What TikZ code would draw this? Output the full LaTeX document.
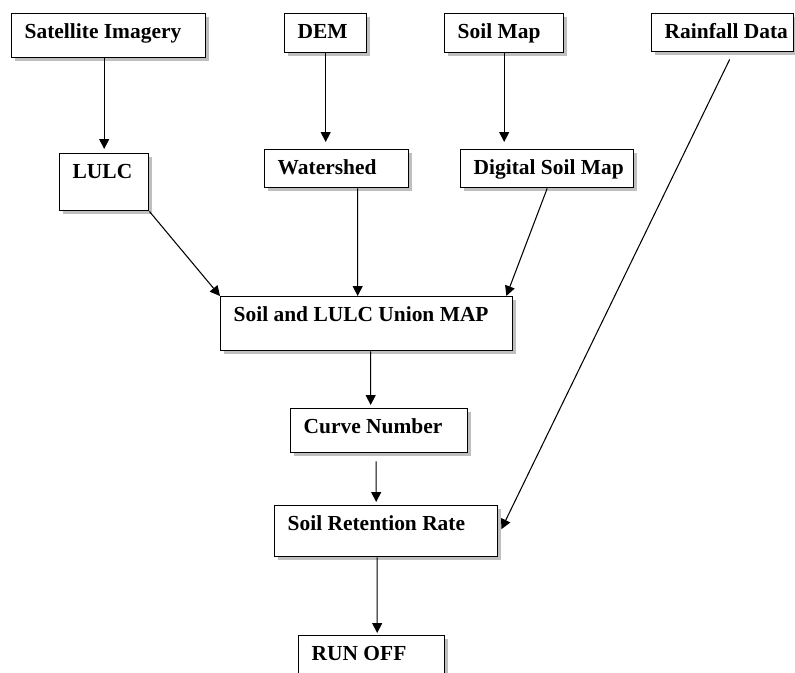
\documentclass[tikz,border=0pt]{standalone}
\usepackage{fontspec}
\setmainfont{Liberation Serif}
\usetikzlibrary{arrows.meta,calc,shadows}

\tikzset{
  blk/.style={draw, line width=0.8pt, fill=white, anchor=north west,
    drop shadow={shadow xshift=0.06cm, shadow yshift=-0.06cm, opacity=0.5},
    align=flush left, inner xsep=0.12cm, inner ysep=0pt, text height=0.5cm,
    execute at begin node={\leftskip=0.14cm\spaceskip=0pt}},
}

\begin{document}
\begin{tikzpicture}[x=0.02cm, y=-0.02cm, font=\bfseries\fontsize{12.2}{14}\selectfont,
  >={Triangle[length=0.2cm,width=0.2cm]}]
\useasboundingbox (0,0) rectangle (795,673);
% input data
\node[blk, text width=3.64cm, text depth=0.38cm] (sat) at (11,13) {Satellite Imagery};
\node[blk, text width=1.40cm, text depth=0.28cm] (dem) at (284,13) {DEM};
\node[blk, text width=2.14cm, text depth=0.28cm] (soil) at (444,13) {Soil Map};
\node[blk, inner xsep=0.1cm, text width=2.64cm, text depth=0.26cm,
  execute at begin node={\leftskip=0.16cm}] (rain) at (651,13) {Rainfall Data};
% derived layers
\node[blk, text width=1.54cm, text depth=0.64cm] (lulc) at (59,153) {LULC};
\node[blk, text width=2.64cm, text depth=0.26cm] (ws) at (264,149) {Watershed};
\node[blk, text width=3.22cm, text depth=0.26cm] (dsm) at (460,149) {Digital Soil Map};
% model chain
\node[blk, text width=5.60cm, text depth=0.58cm] (union) at (220,296) {Soil and LULC Union MAP};
\node[blk, text width=3.30cm, text depth=0.38cm] (cn) at (290,408) {Curve Number};
\node[blk, text width=4.22cm, text depth=0.52cm] (ret) at (274,505) {Soil Retention Rate};
\node[blk, text width=2.68cm, text depth=0.70cm] (ro) at (298,635) {RUN OFF};

\path[->, line width=0.6pt]
% inputs to layers
(lulc.north |- sat.south) edge ($(lulc.north)+(0,-4)$)
(dem.south) edge ($(dem.south |- ws.north)+(0,-7)$)
(soil.south) edge ($(soil.south |- dsm.north)+(0,-7)$)
% layers to union
(lulc.south east) edge (union.north west)
($(ws.south)+(21,0)$) edge ($(union.north)+(-9,0)$)
(dsm.south) edge ($(union.north east)+(-7,0)$);

\path[->, line width=0.6pt]
% down the chain
($(union.south)+(4,0)$) edge ($(cn.north)+(-8.5,-3)$)
($(cn.south)+(-3,8)$) edge ($(ret.north)+(-10,-3)$)
($(ret.south)+(-9,0)$) edge ($(ro.north)+(5.5,-2)$)
% rainfall
($(rain.south)+(7,7)$) edge ($(ret.east)+(3,-2)$);

\end{tikzpicture}
\end{document}
